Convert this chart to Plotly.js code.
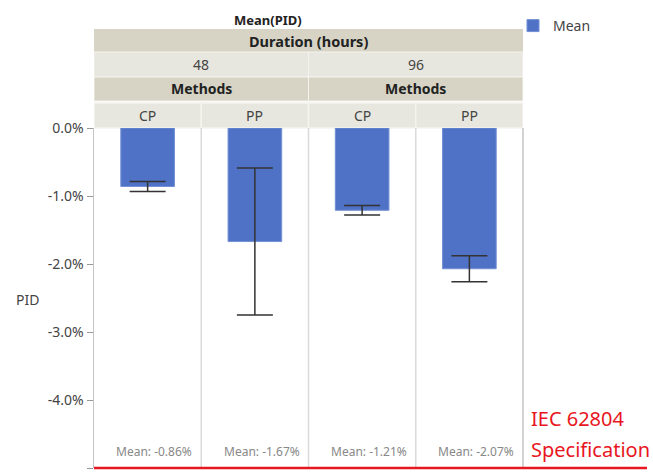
<!DOCTYPE html>
<html>
<head>
<meta charset="utf-8">
<script src="https://cdn.plot.ly/plotly-3.0.1.min.js"></script>
<style>html,body{margin:0;padding:0;background:#fff;}#chart{width:653px;height:473px;}</style>
</head>
<body>
<div id="chart"></div>
<script>
// ---- data ----
const durations = ["48", "96"];
const methods = ["CP", "PP"];
const categories = ["48 CP", "48 PP", "96 CP", "96 PP"];
const meanPID = [-0.86, -1.67, -1.21, -2.07];      // percent
const errPID = [0.075, 1.08, 0.07, 0.19];          // percent (error bar half-length)
const specLimit = -5.0;                              // IEC 62804 specification, percent
const specLabel = ["IEC 62804", "Specification"];
const yRange = [-5, 0];
const yTickVals = [0, -1, -2, -3, -4, -5];
const yTickText = ["0.0%", "-1.0%", "-2.0%", "-3.0%", "-4.0%", "-5.0%"];

// ---- layout helpers ----
const W = 653, H = 473;
const M = {l: 94, r: 130, t: 128, b: 5};
const plotH = H - M.t - M.b;
const plotW = W - M.l - M.r;
const py = p => (H - M.b - p) / plotH;   // pixel y -> paper y
const px = p => (p - M.l) / plotW;       // pixel x -> paper x
const yToPaper = v => (v - yRange[0]) / (yRange[1] - yRange[0]);

const FONT = "Noto Sans, Open Sans, sans-serif";
const darkBand = "#D7D4C5";
const lightBand = "#E8E7DF";
const RED = "#E8161E";

const xs = categories.map((c, i) => i);

const trace = {
  type: "bar",
  name: "Mean",
  x: xs,
  y: meanPID,
  width: 0.5,
  marker: {color: "#4F72C6", line: {color: "#7390D4", width: 1}},
  error_y: {type: "data", array: errPID, visible: true, color: "#333333", thickness: 1.5, width: 18},
  showlegend: true,
  hoverinfo: "skip"
};

const shapes = [];
const annotations = [];

// header bands
shapes.push({type: "rect", xref: "x", yref: "paper", x0: -0.5, x1: 3.5, y0: py(52), y1: py(29), fillcolor: darkBand, line: {width: 0}, layer: "below"});
durations.forEach((d, di) => {
  const x0 = di * 2 - 0.5, x1 = di * 2 + 1.5;
  shapes.push({type: "rect", xref: "x", yref: "paper", x0: x0, x1: x1, y0: py(77), y1: py(52), fillcolor: lightBand, line: {color: "#F4F3EE", width: 1}, layer: "below"});
  shapes.push({type: "rect", xref: "x", yref: "paper", x0: x0, x1: x1, y0: py(101), y1: py(77), fillcolor: darkBand, line: {color: "#F4F3EE", width: 1}, layer: "below"});
  annotations.push({xref: "x", yref: "paper", x: (x0 + x1) / 2, y: py(64.5), text: d, showarrow: false, font: {family: FONT, size: 14, color: "#444"}, yanchor: "middle"});
  annotations.push({xref: "x", yref: "paper", x: (x0 + x1) / 2, y: py(89), text: "<b>Methods</b>", showarrow: false, font: {family: FONT, size: 14, color: "#222"}, yanchor: "middle"});
  methods.forEach((m, mi) => {
    const i = di * 2 + mi;
    shapes.push({type: "rect", xref: "x", yref: "paper", x0: i - 0.5, x1: i + 0.5, y0: 1, y1: py(103), fillcolor: lightBand, line: {color: "#F4F3EE", width: 1.5}, layer: "below"});
    annotations.push({xref: "x", yref: "paper", x: i, y: py(115.5), text: m, showarrow: false, font: {family: FONT, size: 14, color: "#444"}, yanchor: "middle"});
    annotations.push({xref: "x", yref: "y", x: i + 0.435, y: -4.76, text: "Mean: " + meanPID[i].toFixed(2) + "%", showarrow: false, xanchor: "right", yanchor: "middle", font: {family: FONT, size: 12, color: "#888"}});
  });
});
annotations.push({xref: "x", yref: "paper", x: 1.5, y: py(40.5), text: "<b>Duration (hours)</b>", showarrow: false, font: {family: FONT, size: 14.5, color: "#222"}, yanchor: "middle"});
annotations.push({xref: "paper", yref: "paper", x: px(268), y: py(20), text: "<b>Mean(PID)</b>", showarrow: false, font: {family: FONT, size: 13, color: "#222"}, yanchor: "middle"});
annotations.push({xref: "paper", yref: "paper", x: px(14), y: py(299), text: "PID", showarrow: false, xanchor: "left", font: {family: FONT, size: 14, color: "#444"}, yanchor: "middle"});

// column dividers in the plot
[0.5, 1.5, 2.5].forEach(v => {
  shapes.push({type: "line", xref: "x", yref: "paper", x0: v, x1: v, y0: 0, y1: 1, line: {color: "#DADADA", width: 1.5}, layer: "below"});
});
// right border
shapes.push({type: "line", xref: "paper", yref: "paper", x0: 1, x1: 1, y0: 0, y1: 1, line: {color: "#C4C4C4", width: 1.5}});

// specification line
const specY = yToPaper(specLimit);
shapes.push({type: "line", xref: "paper", yref: "paper", x0: 0, x1: px(647), y0: specY, y1: specY, line: {color: RED, width: 2.5}});
annotations.push({xref: "paper", yref: "paper", x: px(529), y: py(418), xanchor: "left", yanchor: "middle",
  text: specLabel[0], showarrow: false, font: {family: FONT, size: 20, color: RED}});
annotations.push({xref: "paper", yref: "paper", x: px(529), y: py(449), xanchor: "left", yanchor: "middle",
  text: specLabel[1], showarrow: false, font: {family: FONT, size: 20, color: RED}});

const layout = {
  width: W, height: H,
  margin: M,
  paper_bgcolor: "#fff", plot_bgcolor: "#fff",
  showlegend: true,
  legend: {x: px(513), y: py(10), xanchor: "left", yanchor: "top", font: {family: FONT, size: 14, color: "#444"}, bgcolor: "rgba(0,0,0,0)", itemwidth: 30, tracegroupgap: 0},
  xaxis: {range: [-0.5, 3.5], showticklabels: false, showgrid: false, zeroline: false, showline: false, ticks: "", fixedrange: true},
  yaxis: {range: yRange, tickvals: yTickVals, ticktext: yTickText, showgrid: false, zeroline: false,
    showline: true, linecolor: "#C4C4C4", linewidth: 1.5, ticks: "outside", ticklen: 6, tickcolor: "#999", tickwidth: 1,
    tickfont: {family: FONT, size: 14, color: "#444"}, fixedrange: true, automargin: false},
  shapes: shapes,
  annotations: annotations,
  bargap: 0.5
};

Plotly.newPlot("chart", [trace], layout, {displayModeBar: false, staticPlot: true});
</script>
</body>
</html>
